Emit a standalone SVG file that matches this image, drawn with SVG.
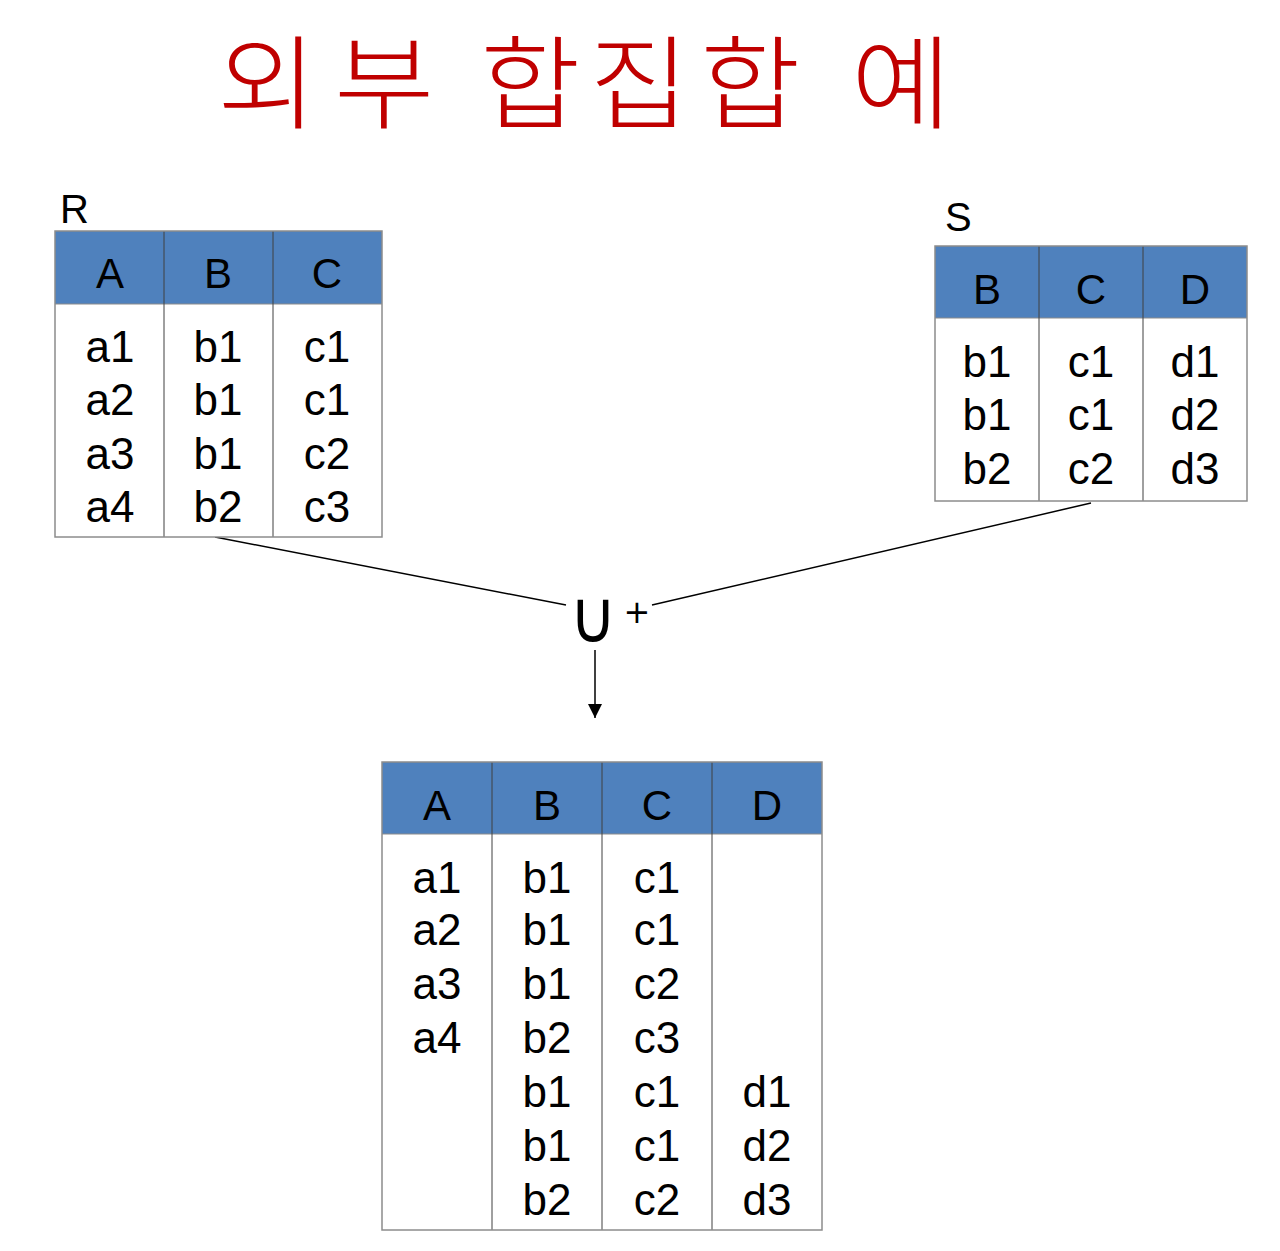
<svg xmlns="http://www.w3.org/2000/svg" width="1280" height="1251" viewBox="0 0 1280 1251">
<defs>
<style>
.title{font-family:"Noto Sans CJK KR","Noto Sans",sans-serif;font-size:102px;font-weight:300;fill:#C00000}
.lbl{font-family:"Liberation Sans",Arial,sans-serif;font-size:40px;fill:#000}
.hd{font-family:"Liberation Sans",Arial,sans-serif;font-size:42px;fill:#000;text-anchor:middle}
.cell{font-family:"Liberation Sans",Arial,sans-serif;font-size:44px;fill:#000;text-anchor:middle}
.hfill{fill:#4F81BD}
.body{fill:#fff}
.outer{fill:none;stroke:#8c8c8c;stroke-width:1.5}
.div{stroke:#404040;stroke-width:1}
.hline{stroke:#8c8c8c;stroke-width:1.2}
.conn{stroke:#000;stroke-width:1.5;fill:none}
.sym{font-family:"DejaVu Sans",sans-serif;fill:#000}
</style>
<marker id="arr" markerWidth="14" markerHeight="14" refX="14" refY="7" orient="auto" markerUnits="userSpaceOnUse" viewBox="0 0 14 14">
<path d="M0,0 L14,7 L0,14 z" fill="#000"/>
</marker>
</defs>
<rect width="1280" height="1251" fill="#fff"/>

<g id="title">
<text class="title" transform="translate(217 121) scale(1.07 1)">외</text>
<text class="title" transform="translate(334 121) scale(1.07 1)">부</text>
<text class="title" transform="translate(480 121) scale(1.07 1)">합</text>
<text class="title" transform="translate(589 121) scale(1.07 1)">집</text>
<text class="title" transform="translate(700 121) scale(1.07 1)">합</text>
<text class="title" transform="translate(851 121) scale(1.07 1)">예</text>
</g>

<g id="connectors">
<line class="conn" x1="215" y1="537" x2="566" y2="605"/>
<line class="conn" x1="1091" y1="503" x2="652" y2="605"/>
<line class="conn" x1="595" y1="650" x2="595" y2="718" marker-end="url(#arr)"/>
</g>

<g id="union-op">
<text class="sym" x="593" y="642" font-size="56" text-anchor="middle" transform="translate(593 642) scale(1.15 1.3) translate(-593 -642)">∪</text>
<text class="sym" x="637" y="623" font-size="32" text-anchor="middle">+</text>
</g>

<g id="table-R">
<text class="lbl" x="60" y="223">R</text>
<rect class="body" x="55" y="231" width="327" height="306"/>
<rect class="hfill" x="55" y="231" width="327" height="73"/>
<line class="hline" x1="55" y1="304" x2="382" y2="304"/>
<line class="div" x1="164" y1="231" x2="164" y2="537"/>
<line class="div" x1="273" y1="231" x2="273" y2="537"/>
<rect class="outer" x="55" y="231" width="327" height="306"/>
<text class="hd" x="110" y="288">A</text>
<text class="hd" x="218" y="288">B</text>
<text class="hd" x="327" y="288">C</text>
<text class="cell" x="110" y="362">a1</text>
<text class="cell" x="110" y="415">a2</text>
<text class="cell" x="110" y="469">a3</text>
<text class="cell" x="110" y="522">a4</text>
<text class="cell" x="218" y="362">b1</text>
<text class="cell" x="218" y="415">b1</text>
<text class="cell" x="218" y="469">b1</text>
<text class="cell" x="218" y="522">b2</text>
<text class="cell" x="327" y="362">c1</text>
<text class="cell" x="327" y="415">c1</text>
<text class="cell" x="327" y="469">c2</text>
<text class="cell" x="327" y="522">c3</text>
</g>

<g id="table-S">
<text class="lbl" x="945" y="231">S</text>
<rect class="body" x="935" y="246" width="312" height="255"/>
<rect class="hfill" x="935" y="246" width="312" height="72"/>
<line class="hline" x1="935" y1="318" x2="1247" y2="318"/>
<line class="div" x1="1039" y1="246" x2="1039" y2="501"/>
<line class="div" x1="1143" y1="246" x2="1143" y2="501"/>
<rect class="outer" x="935" y="246" width="312" height="255"/>
<text class="hd" x="987" y="304">B</text>
<text class="hd" x="1091" y="304">C</text>
<text class="hd" x="1195" y="304">D</text>
<text class="cell" x="987" y="377">b1</text>
<text class="cell" x="987" y="430">b1</text>
<text class="cell" x="987" y="484">b2</text>
<text class="cell" x="1091" y="377">c1</text>
<text class="cell" x="1091" y="430">c1</text>
<text class="cell" x="1091" y="484">c2</text>
<text class="cell" x="1195" y="377">d1</text>
<text class="cell" x="1195" y="430">d2</text>
<text class="cell" x="1195" y="484">d3</text>
</g>

<g id="table-result">
<rect class="body" x="382" y="762" width="440" height="468"/>
<rect class="hfill" x="382" y="762" width="440" height="72"/>
<line class="hline" x1="382" y1="834" x2="822" y2="834"/>
<line class="div" x1="492" y1="762" x2="492" y2="1230"/>
<line class="div" x1="602" y1="762" x2="602" y2="1230"/>
<line class="div" x1="712" y1="762" x2="712" y2="1230"/>
<rect class="outer" x="382" y="762" width="440" height="468"/>
<text class="hd" x="437" y="820">A</text>
<text class="hd" x="547" y="820">B</text>
<text class="hd" x="657" y="820">C</text>
<text class="hd" x="767" y="820">D</text>
<text class="cell" x="437" y="893">a1</text>
<text class="cell" x="437" y="945">a2</text>
<text class="cell" x="437" y="999">a3</text>
<text class="cell" x="437" y="1053">a4</text>
<text class="cell" x="547" y="893">b1</text>
<text class="cell" x="547" y="945">b1</text>
<text class="cell" x="547" y="999">b1</text>
<text class="cell" x="547" y="1053">b2</text>
<text class="cell" x="547" y="1107">b1</text>
<text class="cell" x="547" y="1161">b1</text>
<text class="cell" x="547" y="1215">b2</text>
<text class="cell" x="657" y="893">c1</text>
<text class="cell" x="657" y="945">c1</text>
<text class="cell" x="657" y="999">c2</text>
<text class="cell" x="657" y="1053">c3</text>
<text class="cell" x="657" y="1107">c1</text>
<text class="cell" x="657" y="1161">c1</text>
<text class="cell" x="657" y="1215">c2</text>
<text class="cell" x="767" y="1107">d1</text>
<text class="cell" x="767" y="1161">d2</text>
<text class="cell" x="767" y="1215">d3</text>
</g>
</svg>
